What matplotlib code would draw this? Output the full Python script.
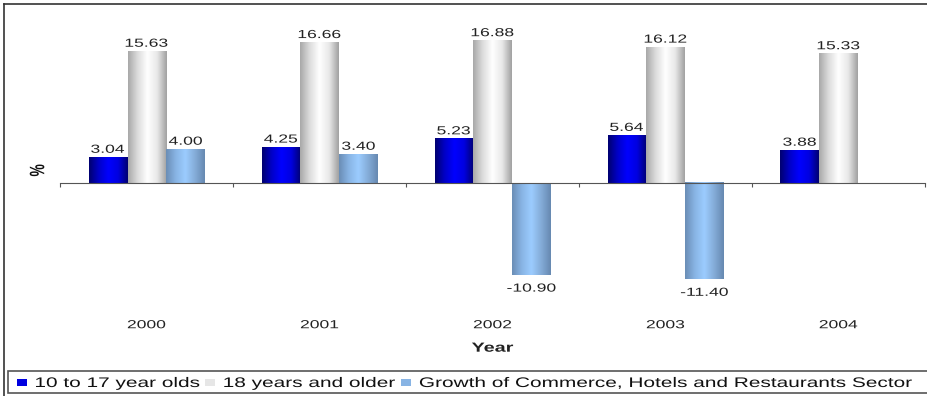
import numpy as np
import matplotlib.pyplot as plt
from matplotlib.colors import LinearSegmentedColormap
from matplotlib.lines import Line2D
from matplotlib.patches import PathPatch, Rectangle
from matplotlib.textpath import TextPath
from matplotlib.font_manager import FontProperties
from matplotlib.transforms import Affine2D, ScaledTranslation

plt.rcParams['font.family'] = ['Liberation Sans', 'DejaVu Sans']

years = ['2000', '2001', '2002', '2003', '2004']
youth = [3.04, 4.25, 5.23, 5.64, 3.88]
adults = [15.63, 16.66, 16.88, 16.12, 15.33]
sector = [4.00, 3.40, -10.90, -11.40, None]
series_names = ['10 to 17 year olds', '18 years and older',
                'Growth of Commerce, Hotels and Restaurants Sector']

# edge / centre colours for the cylinder-like shading of each series
shades = [
    ['#00006e', '#0000c8', '#0000ff', '#0000e0', '#000070'],
    ['#a8a8a8', '#dcdcdc', '#ffffff', '#e8e8e8', '#a0a0a0'],
    ['#6a8db5', '#88b4e4', '#9cccff', '#84acd8', '#6688b0'],
]
legend_colors = ['#0000e0', '#e6e6e6', '#88b4e4']

W, H = 928, 396
STRETCH = 1.5   # all lettering is drawn wide

fig = plt.figure(figsize=(W / 100, H / 100), dpi=100)
ax = fig.add_axes([0.0647, 0.2614, 0.932, 0.6806])


def wide_text(x, y, s, trans, size, ha='center', va='center', weight='normal',
              color='#222222', rotation=0):
    """Text drawn as a path, stretched horizontally; returns its width in px."""
    prop = FontProperties(family='Liberation Sans', weight=weight)
    tp = TextPath((0, 0), s, size=size, prop=prop)
    bb = tp.get_extents()
    dx = {'center': -(bb.x0 + bb.x1) / 2, 'left': -bb.x0, 'right': -bb.x1}[ha]
    dy = {'center': -0.36 * size, 'bottom': 0.0, 'top': -0.716 * size}[va]
    tr = (Affine2D().translate(dx, dy).rotate_deg(rotation).scale(STRETCH / 72, 1 / 72)
          + fig.dpi_scale_trans + ScaledTranslation(x, y, trans))
    fig.add_artist(PathPatch(tp, transform=tr, facecolor=color, edgecolor='none',
                             clip_on=False))
    return bb.width * STRETCH * fig.dpi / 72


def px(x, y):
    return x / W, 1 - y / H


x = np.arange(len(years))
width = 0.22
offsets = [-0.225, 0.0, 0.225]
grad = np.linspace(0, 1, 256).reshape(1, -1)

ax.set_xlim(-0.5, len(years) - 0.5)
ax.set_ylim(-13, 19)

for vals, off, cols in zip([youth, adults, sector], offsets, shades):
    cmap = LinearSegmentedColormap.from_list('shade', cols)
    for xi, v in zip(x, vals):
        if v is None:
            continue
        bar = ax.bar(xi + off, v, width, color='none', edgecolor='none')[0]
        x0 = bar.get_x()
        y0, y1 = sorted([0, v])
        ax.imshow(grad, cmap=cmap, aspect='auto', extent=[x0, x0 + width, y0, y1],
                  interpolation='bicubic', zorder=2)
        if v >= 0:
            wide_text(xi + off, v + 0.55, f'{v:.2f}', ax.transData, 8.4, va='bottom')
        else:
            wide_text(xi + off, v - 1.0, f'{v:.2f}', ax.transData, 8.4, va='top')

ax.set_xlim(-0.5, len(years) - 0.5)
ax.set_ylim(-13, 19)
for s in ['top', 'right', 'left']:
    ax.spines[s].set_visible(False)
ax.spines['bottom'].set_position(('data', 0))
ax.spines['bottom'].set_color('#555555')
ax.spines['bottom'].set_linewidth(0.8)
ax.set_yticks([])
ax.set_xticks(np.arange(len(years) + 1) - 0.5)
ax.set_xticklabels([])
ax.tick_params(axis='x', length=3, direction='out', color='#555555', width=0.8)

for xi, yr in zip(x, years):
    wide_text(xi, -0.117, yr, ax.get_xaxis_transform(), 8.4)
wide_text(2, -0.202, 'Year', ax.get_xaxis_transform(), 9.5, weight='bold')
wide_text(-0.027, 1.5, '%', ax.get_yaxis_transform(), 10, weight='bold', rotation=90,
          color='#111111')

# outer frame (top and left edges)
fig.add_artist(Line2D([4 / W, 1.0], [1 - 4 / H, 1 - 4 / H],
                      transform=fig.transFigure, color='#333333', lw=1.2))
fig.add_artist(Line2D([4 / W, 4 / W], [1 - 4 / H, 0],
                      transform=fig.transFigure, color='#333333', lw=1.2))

# legend box along the bottom, running off the right edge
x0, y0 = px(8, 393)
x1, y1 = px(940, 371)
fig.add_artist(Rectangle((x0, y0), x1 - x0, y1 - y0, transform=fig.transFigure,
                         facecolor='white', edgecolor='#555555', lw=1.2))
cx = 17
for name, col in zip(series_names, legend_colors):
    hx, hy = px(cx, 386)
    fig.add_artist(Rectangle((hx, hy), 10 / W, 7 / H, transform=fig.transFigure,
                             facecolor=col, edgecolor='none'))
    cx += 10 + 9
    tx, ty = px(cx, 382)
    w = wide_text(tx, ty, name, fig.transFigure, 10, ha='left', color='#111111')
    cx += w + 6

fig.savefig('out.png', dpi=100)
